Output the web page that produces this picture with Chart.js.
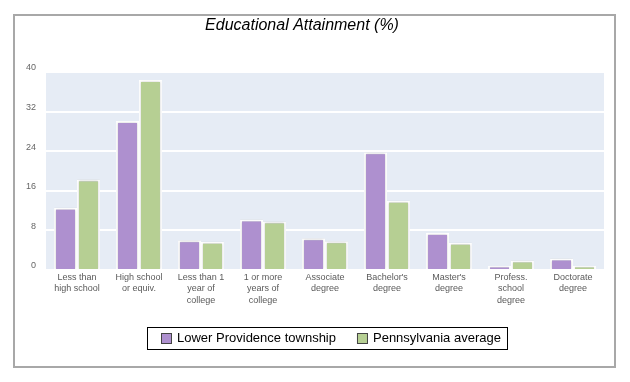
<!DOCTYPE html>
<html><head><meta charset="utf-8">
<script src="https://cdn.jsdelivr.net/npm/chart.js@4.4.1/dist/chart.umd.min.js"></script>
<style>
html,body{margin:0;padding:0;background:#fff;}
#wrap{position:relative;width:630px;height:382px;}
#frame{position:absolute;left:13px;top:14px;width:599px;height:350px;border:2px solid #a8a8a8;pointer-events:none;}
canvas{position:absolute;left:0;top:0;}
</style></head><body>
<div id="wrap"><canvas id="c" width="630" height="382"></canvas><div id="frame"></div></div>
<script>
const categories = [["Less than","high school"],["High school","or equiv."],["Less than 1","year of","college"],["1 or more","years of","college"],["Associate","degree"],["Bachelor's","degree"],["Master's","degree"],["Profess.","school","degree"],["Doctorate","degree"]];
const seriesNames = ["Lower Providence township","Pennsylvania average"];
const lowerProvidence = [12.6,30.1,6.0,10.2,6.4,23.8,7.5,0.8,2.3];
const pennsylvania = [18.3,38.4,5.7,9.8,5.8,14.0,5.5,1.9,0.8];
const yTicks = [0,8,16,24,32,40];
const titleText = "Educational Attainment (%)";

const FONT = '"Liberation Sans", Arial, sans-serif';
Chart.defaults.font.family = FONT;

const plotBg = {
  id:'plotBg',
  beforeDraw(chart){
    const a = chart.chartArea, ctx = chart.ctx;
    ctx.save(); ctx.fillStyle = '#e6ecf5';
    ctx.fillRect(a.left, a.top, a.right - a.left, a.bottom - a.top);
    ctx.restore();
  }
};
const barShadow = {
  id:'barShadow',
  beforeDatasetsDraw(chart){
    const ctx = chart.ctx; ctx.save();
    ctx.shadowColor = 'rgba(0,0,0,0.22)'; ctx.shadowBlur = 2;
  },
  afterDatasetsDraw(chart){ chart.ctx.restore(); }
};
const legendBox = {
  id:'legendBox',
  afterDraw(chart){
    const ctx = chart.ctx; ctx.save();
    ctx.font = '13px ' + FONT;
    const items = chart.data.datasets.map(d => ({label:d.label, color:d.backgroundColor, w:ctx.measureText(d.label).width}));
    const sq = 11, gapText = 5, gapItem = 21, padL = 14, padR = 6;
    let total = padL + padR;
    items.forEach((it,i) => { total += sq + gapText + it.w + (i ? gapItem : 0); });
    const cx = 327, top = 327, h = 22;
    const x0 = Math.round(cx - total/2);
    ctx.strokeStyle = '#000'; ctx.lineWidth = 1;
    ctx.strokeRect(x0 + 0.5, top + 0.5, Math.round(total), h);
    let x = x0 + padL; const cy = top + h/2 + 0.5;
    items.forEach((it,i) => {
      if (i) x += gapItem;
      ctx.fillStyle = it.color; ctx.fillRect(x, Math.round(cy - 5.5), sq, sq);
      ctx.strokeStyle = '#444'; ctx.strokeRect(x + 0.5, Math.round(cy - 5.5) + 0.5, sq - 1, sq - 1);
      x += sq + gapText;
      ctx.fillStyle = '#000'; ctx.textBaseline = 'middle'; ctx.textAlign = 'left';
      ctx.fillText(it.label, x, cy);
      x += it.w;
    });
    ctx.restore();
  }
};

new Chart(document.getElementById('c'), {
  type:'bar',
  data:{
    labels: categories,
    datasets:[
      {label:seriesNames[0], data:lowerProvidence, backgroundColor:'#ae90cf', borderColor:'#ffffff', borderWidth:2},
      {label:seriesNames[1], data:pennsylvania, backgroundColor:'#b6cf93', borderColor:'#ffffff', borderWidth:2}
    ]
  },
  options:{
    responsive:false, animation:false, devicePixelRatio:1,
    categoryPercentage:0.74, barPercentage:1.0,
    layout:{padding:{left:0,right:26,top:0,bottom:72}},
    plugins:{
      legend:{display:false},
      tooltip:{enabled:false},
      title:{display:true, text:titleText, color:'#000', font:{size:16, style:'italic', weight:'normal', family:FONT}, padding:{top:16,bottom:36.8}}
    },
    scales:{
      x:{
        grid:{display:false}, border:{display:false},
        ticks:{color:'#5a5a5a', font:{size:9, lineHeight:1.25}, padding:-6, maxRotation:0, autoSkip:false},
        afterFit(s){ s.height = 40; }
      },
      y:{
        min:0, max:40,
        afterBuildTicks(s){ s.ticks = yTicks.map(v => ({value:v})); },
        grid:{color:'#ffffff', lineWidth:2, drawTicks:false}, border:{display:false},
        ticks:{color:'#666', font:{size:9}, padding:10, labelOffset:-4},
        afterFit(s){ s.width = 46; }
      }
    }
  },
  plugins:[plotBg, barShadow, legendBox]
});
</script>
</body></html>
